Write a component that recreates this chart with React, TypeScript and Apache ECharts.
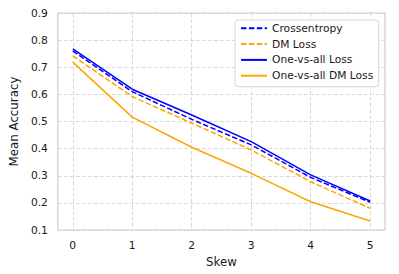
import React, { useEffect, useRef } from "react";
import * as echarts from "echarts";

const skew = [0, 1, 2, 3, 4, 5];
const crossentropy = [0.76, 0.61, 0.508, 0.414, 0.294, 0.202];
const dmLoss = [0.742, 0.592, 0.494, 0.395, 0.278, 0.18];
const oneVsAll = [0.768, 0.619, 0.524, 0.426, 0.303, 0.207];
const oneVsAllDm = [0.719, 0.516, 0.405, 0.309, 0.204, 0.133];

const TEXT = "#1a1a1a";
const GRID = "#d0d0d0";
const FONT = "DejaVu Sans";

export default function App() {
  const ref = useRef<HTMLDivElement>(null);
  useEffect(() => {
    if (!ref.current) return;
    const chart = echarts.init(ref.current, undefined, { renderer: "svg" });
    const mk = (name: string, data: number[], color: string, dashed: boolean) => ({
      name,
      type: "line",
      data: skew.map((x, i) => [x, data[i]]),
      symbol: "none",
      lineStyle: { color, width: 1.5, type: dashed ? [5.5, 2.4] : "solid" },
      itemStyle: { color },
      z: 3,
    });
    chart.setOption({
      animation: false,
      textStyle: { fontFamily: FONT },
      grid: {
        left: 50,
        right: 14,
        top: 13,
        bottom: 44,
        show: true,
        borderColor: "#cccccc",
        borderWidth: 1.2,
        containLabel: false,
      },
      xAxis: {
        type: "value",
        min: -0.25,
        max: 5.25,
        name: "Skew",
        nameLocation: "middle",
        nameGap: 23,
        nameTextStyle: { color: TEXT, fontSize: 11.8, fontFamily: FONT },
        axisLine: { show: false },
        axisTick: { show: false, customValues: skew },
        axisLabel: {
          customValues: skew,
          color: TEXT,
          fontSize: 10.7,
          fontFamily: FONT,
          margin: 10,
        },
        splitLine: { show: true, lineStyle: { color: GRID, type: [4, 2], width: 0.8 } },
      },
      yAxis: {
        type: "value",
        min: 0.1,
        max: 0.9,
        interval: 0.1,
        name: "Mean Accuracy",
        nameLocation: "middle",
        nameGap: 32,
        nameTextStyle: { color: TEXT, fontSize: 11.8, fontFamily: FONT },
        axisLine: { show: false },
        axisTick: { show: false },
        axisLabel: {
          color: TEXT,
          fontSize: 10.7,
          fontFamily: FONT,
          margin: 10,
          formatter: (v: number) => v.toFixed(1),
        },
        splitLine: { show: true, lineStyle: { color: GRID, type: [4, 2], width: 0.8 } },
      },
      legend: {
        orient: "vertical",
        left: 235,
        top: 20,
        backgroundColor: "#ffffff",
        borderColor: "#d6d6d6",
        borderWidth: 1,
        borderRadius: 3,
        padding: [2.3, 5.5, 5, 5],
        itemWidth: 26,
        itemHeight: 12,
        itemGap: 3.8,
        itemStyle: { opacity: 0 },
        textStyle: { color: TEXT, fontSize: 10.7, lineHeight: 12, fontFamily: FONT },
        data: ["Crossentropy", "DM Loss", "One-vs-all Loss", "One-vs-all DM Loss"],
      },
      series: [
        mk("Crossentropy", crossentropy, "#0000ff", true),
        mk("DM Loss", dmLoss, "#ffa500", true),
        mk("One-vs-all Loss", oneVsAll, "#0000ff", false),
        mk("One-vs-all DM Loss", oneVsAllDm, "#ffa500", false),
      ],
    });
    return () => chart.dispose();
  }, []);
  return <div ref={ref} style={{ width: 399, height: 274, margin: -8 }} />;
}
